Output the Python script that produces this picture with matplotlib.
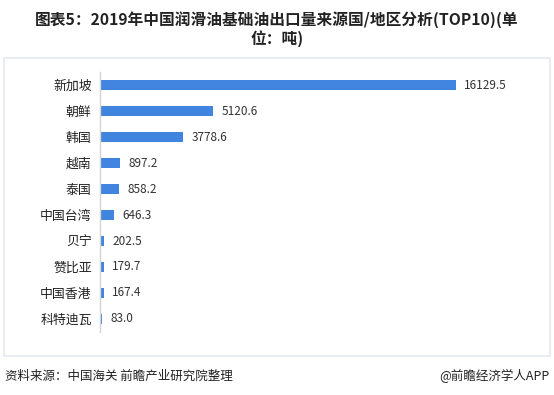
import matplotlib
matplotlib.use("Agg")
import matplotlib.pyplot as plt
from matplotlib.patches import Rectangle

plt.rcParams['font.family'] = ['Noto Sans CJK SC', 'DejaVu Sans']

categories = ["新加坡", "朝鲜", "韩国", "越南", "泰国", "中国台湾", "贝宁", "赞比亚", "中国香港", "科特迪瓦"]
values = [16129.5, 5120.6, 3778.6, 897.2, 858.2, 646.3, 202.5, 179.7, 167.4, 83.0]
value_labels = ["16129.5", "5120.6", "3778.6", "897.2", "858.2", "646.3", "202.5", "179.7", "167.4", "83.0"]
title = "图表5：2019年中国润滑油基础油出口量来源国/地区分析(TOP10)(单\n位：吨)"
source = "资料来源：中国海关 前瞻产业研究院整理"
credit = "@前瞻经济学人APP"

W, H = 554, 395
fig = plt.figure(figsize=(W / 100, H / 100), dpi=100)
fig.patch.set_facecolor("white")

# border box
fig.patches.append(Rectangle((4 / W, 1 - 356 / H), 546 / W, 298 / H, transform=fig.transFigure,
                             fill=False, edgecolor="#e3e8f0", linewidth=1.2))

ax = fig.add_axes([100 / W, 1 - 332 / H, 440 / W, 260 / H])
ypos = list(range(len(categories)))
ax.barh(ypos, values, height=0.36, color="#4285e0")
ax.set_ylim(len(categories) - 0.5, -0.5)
ax.set_xlim(0, 19950)
ax.set_yticks(ypos)
ax.set_yticklabels(categories, fontsize=9.3, color="#222222")
ax.tick_params(axis="y", length=0, pad=6)
ax.set_xticks([])
for s in ["top", "right", "bottom"]:
    ax.spines[s].set_visible(False)
ax.spines["left"].set_color("#d4d4d4")
ax.spines["left"].set_linewidth(1.0)
ax.patch.set_alpha(0)

for y, v, lab in zip(ypos, values, value_labels):
    ax.annotate(lab, (v, y), xytext=(6, 0), textcoords="offset points",
                va="center", ha="left", fontsize=8.5, color="#333333")

fig.text(0.5, 1 - 29 / H, title, ha="center", va="center", fontsize=11.3,
         fontweight="bold", color="#222222", linespacing=1.1)
fig.text(5 / W, 1 - 376 / H, source, ha="left", va="center", fontsize=9, color="#222222")
fig.text(550 / W, 1 - 376 / H, credit, ha="right", va="center", fontsize=9, color="#222222")

fig.savefig("out.png", dpi=100, facecolor="white")
